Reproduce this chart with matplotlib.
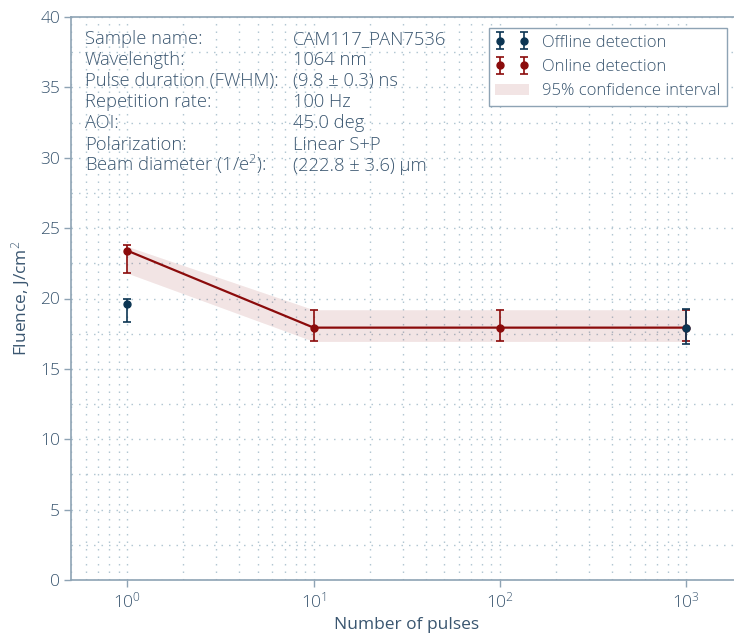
import matplotlib
matplotlib.use("Agg")
import matplotlib.pyplot as plt
from matplotlib.ticker import LogLocator, MultipleLocator, LogFormatterMathtext
import numpy as np

plt.rcParams['font.family'] = ['Open Sans', 'DejaVu Sans']
plt.rcParams['font.weight'] = 'light'
plt.rcParams['mathtext.fontset'] = 'custom'
plt.rcParams['mathtext.rm'] = 'Open Sans:light'
plt.rcParams['mathtext.it'] = 'Open Sans:light'
plt.rcParams['mathtext.bf'] = 'Open Sans'
plt.rcParams['font.size'] = 12

TXT = '#3a5670'
SPINE = '#8ea3b4'
GRID = '#b3c7d3'
RED = '#8b0b0b'
NAVY = '#0c3553'

# data
online_x = [1, 10, 100, 1000]
online_y = [23.4, 17.93, 17.93, 17.93]
online_lo = [21.8, 16.95, 16.95, 16.95]
online_hi = [23.78, 19.17, 19.17, 19.17]

offline_x = [1, 1000]
offline_y = [19.6, 17.93]
offline_lo = [18.35, 16.75]
offline_hi = [19.94, 19.27]

band_lo = [21.8, 16.95, 16.95, 16.95]
band_hi = [23.7, 19.2, 19.2, 19.2]

info_labels = ["Sample name:", "Wavelength:", "Pulse duration (FWHM):", "Repetition rate:",
               "AOI:", "Polarization:", r"Beam diameter (1/e$^2$):"]
info_values = ["CAM117_PAN7536", "1064 nm", "(9.8 ± 0.3) ns", "100 Hz",
               "45.0 deg", "Linear S+P", "(222.8 ± 3.6) µm"]

fig = plt.figure(figsize=(7.34, 6.34), dpi=100)
ax = fig.add_axes([71.2/734, 54/634, 671.2/734, 563/634])
ax.set_xscale('log')
ax.set_xlim(0.5, 2000)
ax.set_ylim(0, 40)

ax.fill_between(online_x, band_lo, band_hi, color=RED, alpha=0.11, lw=0,
                label='95% confidence interval', zorder=2)
ax.plot(online_x, online_y, color=RED, lw=1.6, zorder=3)
on = ax.errorbar(online_x, online_y,
                 yerr=[np.array(online_y) - np.array(online_lo), np.array(online_hi) - np.array(online_y)],
                 fmt='o', color=RED, ms=5, capsize=3.2, elinewidth=1.2, capthick=1.2,
                 label='Online detection', zorder=4)
off = ax.errorbar(offline_x, offline_y,
                  yerr=[np.array(offline_y) - np.array(offline_lo), np.array(offline_hi) - np.array(offline_y)],
                  fmt='o', color=NAVY, ms=5, capsize=3.2, elinewidth=1.2, capthick=1.2,
                  label='Offline detection', zorder=5)

ax.yaxis.set_major_locator(MultipleLocator(5))
ax.yaxis.set_minor_locator(MultipleLocator(2.5))
ax.xaxis.set_major_locator(LogLocator(base=10))
ax.xaxis.set_minor_locator(LogLocator(base=10, subs=np.arange(2, 10)))
ax.xaxis.set_major_formatter(LogFormatterMathtext())
ax.grid(True, which='both', linestyle=(0, (1.1, 4.3)), color=GRID, lw=1.0, zorder=0)
ax.set_axisbelow(True)

for s in ax.spines.values():
    s.set_color(SPINE)
    s.set_linewidth(1.2)
ax.tick_params(which='major', direction='out', length=5, width=1.0, color=SPINE,
               labelcolor=TXT, labelsize=12.5, pad=3)
ax.tick_params(which='minor', length=0)

ax.set_xlabel('Number of pulses', color=TXT, fontsize=12.5, labelpad=4)
ax.set_ylabel('Fluence, J/cm$^2$', color=TXT, fontsize=12.5, labelpad=6)

y0 = (580 - 44) / 563
dy = 21.1 / 563
for i, (lab, val) in enumerate(zip(info_labels, info_values)):
    ax.text(0.0205, y0 - i * dy, lab, transform=ax.transAxes, va='baseline', ha='left',
            color=TXT, fontsize=13.2)
    ax.text(0.330, y0 - i * dy, val, transform=ax.transAxes, va='baseline', ha='left',
            color=TXT, fontsize=13.2)

handles, labels = ax.get_legend_handles_labels()
order = [labels.index('Offline detection'), labels.index('Online detection'),
         labels.index('95% confidence interval')]
leg = ax.legend([handles[i] for i in order], [labels[i] for i in order],
                loc='upper right', bbox_to_anchor=((727.3 - 71.2) / 671.2, (580 - 28) / 563),
                borderaxespad=0, numpoints=2, fancybox=False, framealpha=1,
                edgecolor=SPINE, fontsize=12)
leg.get_frame().set_linewidth(1.0)
for t in leg.get_texts():
    t.set_color(TXT)

fig.savefig('out.png', dpi=100)
